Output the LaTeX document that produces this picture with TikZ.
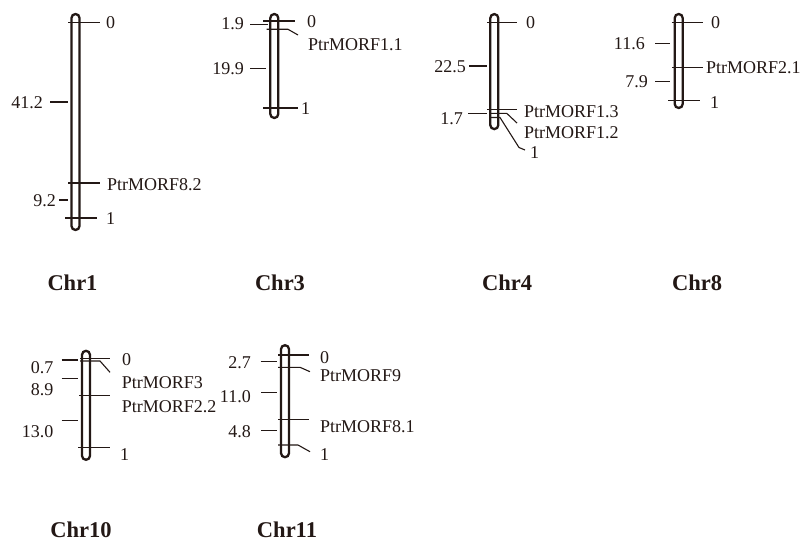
\documentclass[tikz,border=0pt]{standalone}
\usepackage{fontspec}
\setmainfont{Liberation Serif}
\definecolor{ink}{RGB}{35,24,21}
\begin{document}
\begin{tikzpicture}[x=1pt,y=-1pt,
  chrom/.style={draw=ink, line width=2.3pt, rounded corners=4pt, minimum width=8pt, inner sep=0pt},
  tick/.style={draw=ink, line width=1.1pt},
  lab/.style={text=ink, font=\fontsize{18}{21}\selectfont, inner sep=0pt, text height=12pt, text depth=0pt},
  rl/.style={lab, anchor=west},
  ll/.style={lab, anchor=east},
  ttl/.style={text=ink, font=\fontsize{22.5}{26}\selectfont\bfseries, inner sep=0pt, text height=15pt, text depth=0pt}]
\useasboundingbox (0,0) rectangle (800,543);
\fill[white] (0,0) rectangle (800,543);

% ---------- Chr1 ----------
\node[chrom, minimum height=216pt] (c1) at (75.5,122) {};
\draw[tick] (68,22.5) -- (100,22.5);
\node[rl] (c1a) at (106,22.5) {0};
\draw[tick] (68,183) -- (100,183);
\node[rl] (c1b) at (107,184) {PtrMORF8.2};
\draw[tick] (65,218) -- (97,218);
\node[rl] (c1c) at (106,218.5) {1};
\draw[tick] (50,102) -- (68,102);
\node[ll] (c1d) at (43,102) {41.2};
\draw[tick] (59,200) -- (68,200);
\node[ll] (c1e) at (56,200) {9.2};
\node[ttl] (t1) at (72.5,283) {Chr1};

% ---------- Chr3 ----------
\node[chrom, minimum height=104pt] (c3) at (274.3,66) {};
\draw[tick] (263,21) -- (295,21);
\node[rl] (c3a) at (307,22) {0};
\draw[tick] (266.7,29.3) -- (288,29.3) -- (298,35);
\node[rl] (c3b) at (308,44.5) {PtrMORF1.1};
\draw[tick] (263,108) -- (298,108);
\node[rl] (c3c) at (301,108) {1};
\draw[tick] (250,24.5) -- (268,24.5);
\node[ll] (c3d) at (244,24) {1.9};
\draw[tick] (250,68.5) -- (266,68.5);
\node[ll] (c3e) at (244,68.5) {19.9};
\node[ttl] (t3) at (280,283) {Chr3};

% ---------- Chr4 ----------
\node[chrom, minimum height=115pt] (c4) at (494.3,71.6) {};
\draw[tick] (487,22.7) -- (517,22.7);
\node[rl] (c4a) at (526,22.7) {0};
\draw[tick] (487,109.3) -- (517,109.3);
\node[rl] (c4b) at (524,111) {PtrMORF1.3};
\draw[tick] (490,113.3) -- (506.7,113.3) -- (517,123);
\node[rl] (c4c) at (524,132) {PtrMORF1.2};
\draw[tick] (490,117.5) -- (500,117.5) -- (519,147.5) -- (525,150);
\node[rl] (c4d) at (530,152.5) {1};
\draw[tick] (469.3,66) -- (486.7,66);
\node[ll] (c4e) at (466,66) {22.5};
\draw[tick] (468.3,113.3) -- (486.7,113.3);
\node[ll] (c4f) at (463,118) {1.7};
\node[ttl] (t4) at (507,283) {Chr4};

% ---------- Chr8 ----------
\node[chrom, minimum height=94pt] (c8) at (678.7,61) {};
\draw[tick] (671.7,22.7) -- (703,22.7);
\node[rl] (c8a) at (711,22.7) {0};
\draw[tick] (672,67.7) -- (703,67.7);
\node[rl] (c8b) at (706,68) {PtrMORF2.1};
\draw[tick] (668,100.7) -- (700,100.7);
\node[rl] (c8c) at (710,102) {1};
\draw[tick] (655,43.3) -- (670,43.3);
\node[ll] (c8d) at (645,43) {11.6};
\draw[tick] (655,81.7) -- (670,81.7);
\node[ll] (c8e) at (648,82) {7.9};
\node[ttl] (t8) at (697,283) {Chr8};

% ---------- Chr10 ----------
\node[chrom, minimum height=109pt] (c10) at (86,405.3) {};
\draw[tick] (80,358.3) -- (110,358.3);
\node[rl] (c10a) at (122,359) {0};
\draw[tick] (80,361) -- (100,361) -- (110,372.3);
\node[rl] (c10b) at (121.7,382.5) {PtrMORF3};
\draw[tick] (79,395.7) -- (110,395.7);
\node[rl] (c10c) at (121.7,406) {PtrMORF2.2};
\draw[tick] (78,447.3) -- (110,447.3);
\node[rl] (c10d) at (120,454) {1};
\draw[tick] (61.7,360) -- (78.3,360);
\node[ll] (c10e) at (53.5,367.5) {0.7};
\draw[tick] (61.7,378.3) -- (78.3,378.3);
\node[ll] (c10f) at (53.5,389) {8.9};
\draw[tick] (61.7,420.7) -- (78.3,420.7);
\node[ll] (c10g) at (53.5,431) {13.0};
\node[ttl] (t10) at (81,530) {Chr10};

% ---------- Chr11 ----------
\node[chrom, minimum height=112pt] (c11) at (285,401.2) {};
\draw[tick] (278.3,355) -- (309.3,355);
\node[rl] (c11a) at (320,357.5) {0};
\draw[tick] (278,367.3) -- (300,367.3) -- (310,371.7);
\node[rl] (c11b) at (320,375) {PtrMORF9};
\draw[tick] (278,419.3) -- (309,419.3);
\node[rl] (c11c) at (320,426) {PtrMORF8.1};
\draw[tick] (278,445) -- (298,445) -- (310,451.7);
\node[rl] (c11d) at (320,454) {1};
\draw[tick] (260.7,361.7) -- (277.3,361.7);
\node[ll] (c11e) at (251,362.5) {2.7};
\draw[tick] (261,392.7) -- (277,392.7);
\node[ll] (c11f) at (251,396.5) {11.0};
\draw[tick] (261,430.7) -- (277,430.7);
\node[ll] (c11g) at (251,431.5) {4.8};
\node[ttl] (t11) at (287,530) {Chr11};
\end{tikzpicture}
\end{document}
